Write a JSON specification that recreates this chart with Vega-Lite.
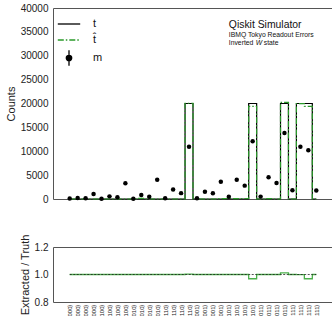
{
  "$schema": "https://vega.github.io/schema/vega-lite/v6.json",
  "padding": {"left": 4, "top": 2, "right": 3, "bottom": 0},
  "config": {
    "font": "Liberation Sans",
    "view": {"stroke": "#555555", "strokeWidth": 1},
    "axis": {"grid": false, "ticks": false, "domain": false, "labelFontSize": 10, "labelColor": "#222222", "titleFontSize": 11, "titleFontWeight": "normal", "titleColor": "#222222", "labelPadding": 5, "titlePadding": 4, "labelOverlap": false}
  },
  "datasets": {
    "bins": [
      {"i": 0, "state": "|00000⟩", "truth": 0, "extracted": 0, "measured": 100, "ratio": 1},
      {"i": 1, "state": "|10000⟩", "truth": 0, "extracted": 0, "measured": 200, "ratio": 1},
      {"i": 2, "state": "|01000⟩", "truth": 0, "extracted": 0, "measured": 150, "ratio": 1},
      {"i": 3, "state": "|11000⟩", "truth": 0, "extracted": 0, "measured": 1050, "ratio": 1},
      {"i": 4, "state": "|00100⟩", "truth": 0, "extracted": 0, "measured": 50, "ratio": 1},
      {"i": 5, "state": "|10100⟩", "truth": 0, "extracted": 0, "measured": 550, "ratio": 1},
      {"i": 6, "state": "|01100⟩", "truth": 0, "extracted": 0, "measured": 380, "ratio": 1},
      {"i": 7, "state": "|11100⟩", "truth": 0, "extracted": 0, "measured": 3300, "ratio": 1},
      {"i": 8, "state": "|00010⟩", "truth": 0, "extracted": 0, "measured": 50, "ratio": 1},
      {"i": 9, "state": "|10010⟩", "truth": 0, "extracted": 120, "measured": 820, "ratio": 1},
      {"i": 10, "state": "|01010⟩", "truth": 0, "extracted": 0, "measured": 470, "ratio": 1},
      {"i": 11, "state": "|11010⟩", "truth": 0, "extracted": 0, "measured": 4030, "ratio": 1},
      {"i": 12, "state": "|00110⟩", "truth": 0, "extracted": 0, "measured": 150, "ratio": 1},
      {"i": 13, "state": "|10110⟩", "truth": 0, "extracted": 0, "measured": 2000, "ratio": 1},
      {"i": 14, "state": "|01110⟩", "truth": 0, "extracted": 0, "measured": 1230, "ratio": 1},
      {"i": 15, "state": "|11110⟩", "truth": 20000, "extracted": 20050, "measured": 10950, "ratio": 1.003},
      {"i": 16, "state": "|00001⟩", "truth": 0, "extracted": 0, "measured": 150, "ratio": 1},
      {"i": 17, "state": "|10001⟩", "truth": 0, "extracted": 0, "measured": 1500, "ratio": 1},
      {"i": 18, "state": "|01001⟩", "truth": 0, "extracted": 0, "measured": 1200, "ratio": 1},
      {"i": 19, "state": "|11001⟩", "truth": 0, "extracted": 90, "measured": 3600, "ratio": 1},
      {"i": 20, "state": "|00101⟩", "truth": 0, "extracted": 100, "measured": 450, "ratio": 1},
      {"i": 21, "state": "|10101⟩", "truth": 0, "extracted": 80, "measured": 4050, "ratio": 1},
      {"i": 22, "state": "|01101⟩", "truth": 0, "extracted": 100, "measured": 2800, "ratio": 1},
      {"i": 23, "state": "|11101⟩", "truth": 20000, "extracted": 19400, "measured": 12100, "ratio": 0.969},
      {"i": 24, "state": "|00011⟩", "truth": 0, "extracted": 0, "measured": 500, "ratio": 1},
      {"i": 25, "state": "|10011⟩", "truth": 0, "extracted": 90, "measured": 4550, "ratio": 1},
      {"i": 26, "state": "|01011⟩", "truth": 0, "extracted": 0, "measured": 3350, "ratio": 1},
      {"i": 27, "state": "|11011⟩", "truth": 20000, "extracted": 20250, "measured": 13800, "ratio": 1.012},
      {"i": 28, "state": "|00111⟩", "truth": 0, "extracted": 0, "measured": 1850, "ratio": 1},
      {"i": 29, "state": "|10111⟩", "truth": 20000, "extracted": 19980, "measured": 10950, "ratio": 0.999},
      {"i": 30, "state": "|01111⟩", "truth": 20000, "extracted": 19400, "measured": 10200, "ratio": 0.969},
      {"i": 31, "state": "|11111⟩", "truth": 0, "extracted": 0, "measured": 1780, "ratio": 1}
    ]
  },
  "spacing": 28,
  "vconcat": [
    {
      "width": 280,
      "height": 191,
      "layer": [
        {
          "data": {"name": "bins"},
          "mark": {"type": "line", "interpolate": "step", "strokeWidth": 1.2},
          "encoding": {
            "x": {"field": "i", "type": "quantitative", "scale": {"domain": [-2.1, 33.1], "nice": false, "zero": false}, "axis": null},
            "y": {"field": "truth", "type": "quantitative", "scale": {"domain": [0, 40000], "nice": false}, "axis": {"values": [0, 5000, 10000, 15000, 20000, 25000, 30000, 35000, 40000], "tickCount": 9, "format": "d", "title": "Counts", "labelOverlap": false}},
            "color": {
              "datum": "t",
              "type": "nominal",
              "scale": {"domain": ["t", "t̂", "m"], "range": ["#000000", "#2a9a2a", "#000000"]},
              "legend": {
                "title": null,
                "orient": "top-left",
                "offset": 7,
                "padding": 0,
                "symbolType": "stroke",
                "symbolSize": 256,
                "symbolStrokeWidth": 1.3,
                "labelFontSize": 11,
                "labelColor": "#111111",
                "labelOffset": 15,
                "rowPadding": 2,
                "encode": {
                  "symbols": {
                    "update": {
                      "shape": {"signal": "datum.value === 'm' ? 'M0,-0.97L0,0.97M-0.34,0A0.34,0.34,0,1,1,0.34,0A0.34,0.34,0,1,1,-0.34,0Z' : 'M-1.4,0L1.4,0'"},
                      "strokeDash": {"signal": "datum.value === 't̂' ? [6, 2, 1.5, 2] : []"},
                      "fill": {"signal": "datum.value === 'm' ? '#000000' : 'transparent'"},
                      "stroke": {"signal": "datum.value === 't̂' ? '#2a9a2a' : '#000000'"}
                    }
                  }
                }
              }
            }
          }
        },
        {
          "data": {"name": "bins"},
          "mark": {"type": "line", "interpolate": "step", "strokeWidth": 1.2, "strokeDash": [6, 2, 1.5, 2]},
          "encoding": {
            "x": {"field": "i", "type": "quantitative", "axis": null},
            "y": {"field": "extracted", "type": "quantitative", "axis": {"values": [0, 5000, 10000, 15000, 20000, 25000, 30000, 35000, 40000], "tickCount": 9, "format": "d", "title": "Counts", "labelOverlap": false}},
            "color": {"datum": "t̂", "type": "nominal"}
          }
        },
        {
          "data": {"name": "bins"},
          "mark": {"type": "point", "filled": true, "size": 20, "opacity": 1},
          "encoding": {
            "x": {"field": "i", "type": "quantitative", "axis": null},
            "y": {"field": "measured", "type": "quantitative", "axis": {"values": [0, 5000, 10000, 15000, 20000, 25000, 30000, 35000, 40000], "tickCount": 9, "format": "d", "title": "Counts", "labelOverlap": false}},
            "color": {"datum": "m", "type": "nominal"}
          }
        },
        {
          "data": {"name": "bins"},
          "transform": [{"filter": "datum.i === 20"}],
          "mark": {"type": "text", "align": "left", "baseline": "middle", "fontSize": 10.4, "color": "#111111"},
          "encoding": {"x": {"field": "i", "type": "quantitative", "axis": null}, "y": {"datum": 36530, "type": "quantitative", "axis": {"values": [0, 5000, 10000, 15000, 20000, 25000, 30000, 35000, 40000], "tickCount": 9, "format": "d", "title": "Counts", "labelOverlap": false}}, "text": {"value": "Qiskit Simulator"}}
        },
        {
          "data": {"name": "bins"},
          "transform": [{"filter": "datum.i === 20"}],
          "mark": {"type": "text", "align": "left", "baseline": "middle", "fontSize": 6.8, "color": "#111111"},
          "encoding": {"x": {"field": "i", "type": "quantitative", "axis": null}, "y": {"datum": 34450, "type": "quantitative", "axis": {"values": [0, 5000, 10000, 15000, 20000, 25000, 30000, 35000, 40000], "tickCount": 9, "format": "d", "title": "Counts", "labelOverlap": false}}, "text": {"value": "IBMQ Tokyo Readout Errors"}}
        },
        {
          "data": {"name": "bins"},
          "transform": [{"filter": "datum.i === 20"}],
          "mark": {"type": "text", "align": "left", "baseline": "middle", "fontSize": 6.8, "color": "#111111"},
          "encoding": {"x": {"field": "i", "type": "quantitative", "axis": null}, "y": {"datum": 32670, "type": "quantitative", "axis": {"values": [0, 5000, 10000, 15000, 20000, 25000, 30000, 35000, 40000], "tickCount": 9, "format": "d", "title": "Counts", "labelOverlap": false}}, "text": {"value": "Inverted"}}
        },
        {
          "data": {"name": "bins"},
          "transform": [{"filter": "datum.i === 20"}],
          "mark": {"type": "text", "align": "left", "baseline": "middle", "fontSize": 6.8, "fontStyle": "italic", "color": "#111111", "dx": 27},
          "encoding": {"x": {"field": "i", "type": "quantitative", "axis": null}, "y": {"datum": 32670, "type": "quantitative", "axis": {"values": [0, 5000, 10000, 15000, 20000, 25000, 30000, 35000, 40000], "tickCount": 9, "format": "d", "title": "Counts", "labelOverlap": false}}, "text": {"value": "W"}}
        },
        {
          "data": {"name": "bins"},
          "transform": [{"filter": "datum.i === 20"}],
          "mark": {"type": "text", "align": "left", "baseline": "middle", "fontSize": 6.8, "color": "#111111", "dx": 35},
          "encoding": {"x": {"field": "i", "type": "quantitative", "axis": null}, "y": {"datum": 32670, "type": "quantitative", "axis": {"values": [0, 5000, 10000, 15000, 20000, 25000, 30000, 35000, 40000], "tickCount": 9, "format": "d", "title": "Counts", "labelOverlap": false}}, "text": {"value": "state"}}
        }
      ]
    },
    {
      "width": 280,
      "height": 55,
      "layer": [
        {
          "data": {"name": "bins"},
          "mark": {"type": "line", "interpolate": "step", "strokeWidth": 1.3, "color": "#4cb04c"},
          "encoding": {
            "x": {"field": "i", "type": "quantitative", "scale": {"domain": [-2.1, 33.1], "nice": false, "zero": false}, "axis": {"title": null, "values": [0, 1, 2, 3, 4, 5, 6, 7, 8, 9, 10, 11, 12, 13, 14, 15, 16, 17, 18, 19, 20, 21, 22, 23, 24, 25, 26, 27, 28, 29, 30, 31], "labelExpr": "['|00000⟩','|10000⟩','|01000⟩','|11000⟩','|00100⟩','|10100⟩','|01100⟩','|11100⟩','|00010⟩','|10010⟩','|01010⟩','|11010⟩','|00110⟩','|10110⟩','|01110⟩','|11110⟩','|00001⟩','|10001⟩','|01001⟩','|11001⟩','|00101⟩','|10101⟩','|01101⟩','|11101⟩','|00011⟩','|10011⟩','|01011⟩','|11011⟩','|00111⟩','|10111⟩','|01111⟩','|11111⟩'][datum.value]", "labelAngle": 270, "labelFontSize": 6, "labelOverlap": false, "labelPadding": 2, "labelFlush": false}},
            "y": {"field": "ratio", "type": "quantitative", "scale": {"domain": [0.8, 1.2], "nice": false, "zero": false}, "axis": {"values": [0.8, 1.0, 1.2], "tickCount": 3, "format": ".1f", "title": "Extracted / Truth", "labelOverlap": false}}
          }
        },
        {
          "data": {"name": "bins"},
          "mark": {"type": "line", "interpolate": "step", "strokeWidth": 1, "color": "#1a1a1a", "strokeDash": [2, 1.5], "opacity": 0.75},
          "encoding": {
            "x": {"field": "i", "type": "quantitative", "axis": {"title": null, "values": [0, 1, 2, 3, 4, 5, 6, 7, 8, 9, 10, 11, 12, 13, 14, 15, 16, 17, 18, 19, 20, 21, 22, 23, 24, 25, 26, 27, 28, 29, 30, 31], "labelExpr": "['|00000⟩','|10000⟩','|01000⟩','|11000⟩','|00100⟩','|10100⟩','|01100⟩','|11100⟩','|00010⟩','|10010⟩','|01010⟩','|11010⟩','|00110⟩','|10110⟩','|01110⟩','|11110⟩','|00001⟩','|10001⟩','|01001⟩','|11001⟩','|00101⟩','|10101⟩','|01101⟩','|11101⟩','|00011⟩','|10011⟩','|01011⟩','|11011⟩','|00111⟩','|10111⟩','|01111⟩','|11111⟩'][datum.value]", "labelAngle": 270, "labelFontSize": 6, "labelOverlap": false, "labelPadding": 2, "labelFlush": false}},
            "y": {"datum": 1, "type": "quantitative", "axis": {"values": [0.8, 1.0, 1.2], "tickCount": 3, "format": ".1f", "title": "Extracted / Truth", "labelOverlap": false}}
          }
        }
      ]
    }
  ]
}
